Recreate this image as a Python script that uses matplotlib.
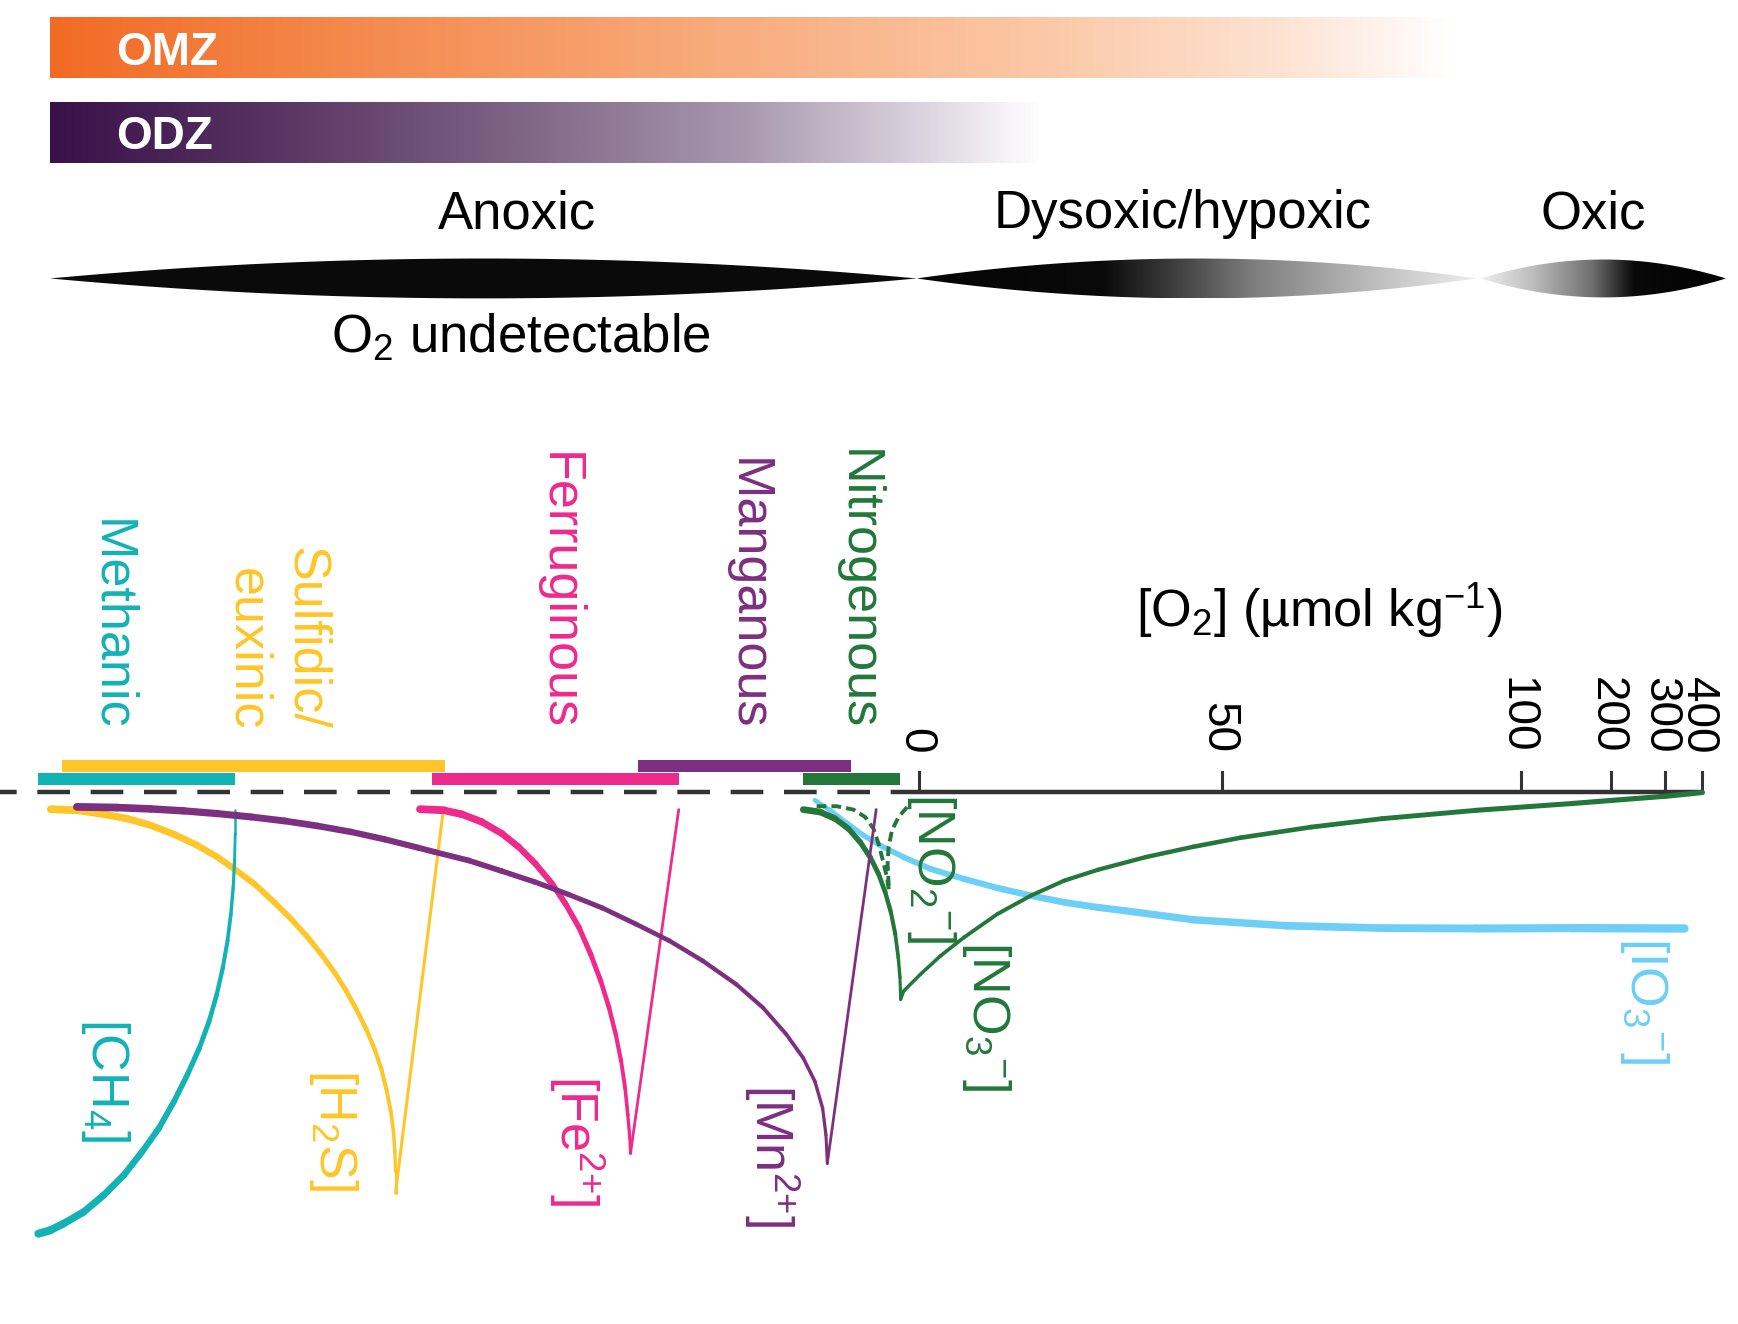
import numpy as np
import matplotlib
matplotlib.use("Agg")
import matplotlib.pyplot as plt
from matplotlib.collections import LineCollection
from matplotlib.colors import LinearSegmentedColormap
from matplotlib.patches import Polygon

plt.rcParams['font.family'] = ['Liberation Sans', 'DejaVu Sans']
plt.rcParams['mathtext.fontset'] = 'custom'
plt.rcParams['mathtext.rm'] = 'Liberation Sans'
plt.rcParams['mathtext.it'] = 'Liberation Sans:italic'
plt.rcParams['mathtext.bf'] = 'Liberation Sans:bold'
plt.rcParams['mathtext.default'] = 'rm'

# colores
C_CH4 = '#13b2b5'
C_H2S = '#ffc629'
C_FE = '#ee2a8c'
C_MN = '#7d2f80'
C_N = '#23773a'
C_IO3 = '#6dcff6'
C_AXIS = '#333333'

# ---------------- datos ----------------
# eje de O2 (escala comprimida por encima de 100)
o2_ticks = [0, 50, 100, 200, 300, 400]
o2_pos = [0, 50.2, 99.7, 114.6, 123.5, 129.7]

# regimenes redox (barras); fila 0 = abajo, 1 = arriba
regimes = ['Methanic', 'Sulfidic/\neuxinic', 'Ferruginous', 'Manganous', 'Nitrogenous']
reg_colors = [C_CH4, C_H2S, C_FE, C_MN, C_N]
reg_start = [-145.9, -141.9, -80.6, -46.6, -19.3]
reg_end = [-113.3, -78.5, -39.8, -11.3, -3.1]
reg_row = [0, 1, 0, 1, 0]
reg_label_x = [-133.8, -106.5, -59.7, -28.5, -10.2]

# perfiles de concentracion (posicion, concentracion relativa hacia abajo)
ch4_x = [-113.25, -113.25, -113.36, -113.58, -113.97, -114.52, -115.3, -116.3, -117.57, -119.18,
         -121.17, -123.39, -125.89, -128.66, -131.7, -135.03, -138.35, -141.68, -143.9, -145.84]
ch4_y = [2.83, 6.82, 11.25, 15.69, 20.12, 24.55, 28.99, 33.42, 37.86, 42.29,
         46.72, 51.16, 55.59, 59.47, 63.35, 66.67, 69.45, 71.38, 72.49, 73.05]

# H2S: curva y linea de retorno (ultimo punto)
h2s_x = [-143.79, -139.46, -135.58, -131.15, -127.27, -123.39, -119.51, -116.19, -113.42, -110.09,
         -106.77, -103.99, -101.22, -99.01, -96.79, -94.85, -93.19, -91.53, -90.14, -89.03,
         -88.2, -87.48, -87.04, -86.81, -86.7, -86.7, -78.78]
h2s_y = [2.77, 2.94, 3.5, 4.33, 5.43, 6.93, 8.76, 10.7, 12.64, 15.13,
         18.18, 20.95, 24.0, 26.77, 29.82, 32.87, 35.92, 39.24, 42.57, 45.89,
         49.22, 52.82, 56.14, 59.47, 62.79, 66.23, 2.83]

fe_x = [-82.65, -78.77, -75.72, -72.4, -69.07, -66.3, -63.53, -60.76, -58.54, -56.33,
        -54.39, -52.72, -51.34, -50.23, -49.34, -48.68, -48.24, -47.9, -47.79, -39.81]
fe_y = [2.77, 2.94, 3.61, 4.88, 6.82, 9.04, 11.81, 15.13, 18.46, 22.34,
        26.77, 31.21, 35.64, 40.07, 44.51, 48.94, 53.37, 57.25, 59.75, 2.83]

mn_x = [-139.46, -132.81, -127.27, -121.73, -116.19, -110.64, -105.1, -99.56, -94.02, -88.48,
        -82.93, -80.16, -74.62, -69.07, -63.53, -57.99, -52.45, -46.91, -41.36, -35.82,
        -30.28, -25.85, -21.97, -19.2, -17.26, -15.98, -15.43, -15.2, -7.11]
mn_y = [2.39, 2.5, 2.72, 3.05, 3.5, 4.05, 4.71, 5.55, 6.54, 7.76,
        9.15, 9.87, 11.25, 13.03, 14.86, 16.91, 19.12, 21.78, 24.55, 27.88,
        31.76, 35.64, 40.07, 43.95, 47.83, 52.26, 56.7, 61.41, 2.83]

# NO3: bajada (13 puntos) y subida hasta 400 µmol
no3_x = [-19.19, -16.42, -13.92, -11.71, -9.77, -8.11, -6.72, -5.61, -4.67, -3.95, -3.45, -3.17, -3.06,
         -2.56, 0.21, 3.53, 7.41, 12.95, 18.5, 24.04, 29.58, 37.53, 45.37, 53.18, 64.93, 76.65,
         92.31, 107.96, 123.61, 129.7]
no3_y = [2.84, 3.23, 4.33, 6.0, 8.21, 10.71, 13.48, 16.53, 19.85, 23.45, 27.33, 30.66, 34.26,
         32.88, 30.11, 27.06, 24.01, 20.13, 17.08, 14.59, 12.81, 10.7, 9.0, 7.5, 5.73, 4.34,
         2.95, 1.84, 0.62, 0.0]
no3_down = 13

no2_x = [-16.97, -13.65, -10.88, -8.94, -7.55, -6.72, -6.0, -5.33, -5.0, -5.22, -5.06, -4.5, -3.4, -1.73]
no2_y = [2.28, 2.28, 2.84, 4.06, 6.0, 8.49, 11.26, 14.03, 16.14, 11.82, 9.05, 6.27, 4.06, 2.12]

io3_x = [-17.25, -14.76, -11.98, -9.21, -6.44, -2.56, 1.87, 7.41, 12.95, 18.5, 24.04, 29.58,
         34.01, 45.37, 61.0, 76.65, 92.31, 107.96, 126.74]
io3_y = [1.29, 2.95, 5.05, 7.1, 8.77, 10.71, 12.65, 14.31, 15.81, 17.08, 18.19, 19.02,
         19.57, 21.07, 22.07, 22.46, 22.52, 22.46, 22.52]

species = [r'[CH$_4$]', r'[H$_2$S]', r'[Fe$^{2{+}}$]', r'[Mn$^{2{+}}$]',
           r'[NO$_2$$^{-}$]', r'[NO$_3$$^{-}$]', r'[IO$_3$$^{-}$]']
sp_colors = [C_CH4, C_H2S, C_FE, C_MN, C_N, C_N, C_IO3]
sp_x = [-134.7, -96.9, -56.6, -24.4, 2.0, 11.1, 120.1]
sp_y = [37.3, 45.8, 46.8, 48.2, 0.1, 24.6, 24.0]

zones = ['Anoxic', 'Dysoxic/hypoxic', 'Oxic']
zone_x = [-66.6, 43.6, 111.7]

# ---------------- figura ----------------
fig = plt.figure(figsize=(17.38, 13.24), dpi=100)
ax = fig.add_axes([0, 0, 1, 1])
ax.axis('off')


def tapered(x, y, widths, color, z):
    pts = np.column_stack([x, y])
    segs = np.stack([pts[:-1], pts[1:]], axis=1)
    lc = LineCollection(segs, linewidths=widths, colors=color,
                        capstyle='round', joinstyle='round', zorder=z)
    ax.add_collection(lc)


def gradient_box(x0, x1, y0, y1, stops, clip=None):
    cmap = LinearSegmentedColormap.from_list('g', stops)
    grad = np.linspace(0, 1, 512)[np.newaxis, :]
    im = ax.imshow(grad, cmap=cmap, extent=(x0, x1, y1, y0), aspect='auto',
                   interpolation='bilinear', zorder=1)
    if clip is not None:
        im.set_clip_path(clip)


def lens(x0, x1, yc, h):
    t = np.linspace(0, 1, 300)
    xs = x0 + t * (x1 - x0)
    hs = h * 4 * t * (1 - t)
    return np.concatenate([np.column_stack([xs, yc - hs]),
                           np.column_stack([xs[::-1], yc + hs[::-1]])])


# barras OMZ / ODZ
gradient_box(-143.9, 88.6, -128.3, -118.3,
             [(0, '#f26b25'), (0.2, '#f4874a'), (0.45, '#f8a878'), (0.7, '#fbc7a5'),
              (0.88, '#fde3d2'), (1.0, '#ffffff')])
gradient_box(-143.9, 20.3, -114.2, -104.2,
             [(0, '#3a1149'), (0.2, '#543060'), (0.45, '#7b6081'), (0.7, '#a898ae'),
              (0.87, '#d8d0dc'), (1.0, '#ffffff')])
ax.text(-133.0, -120.5, 'OMZ', color='white', fontsize=33, fontweight='bold',
        ha='left', va='baseline', zorder=5)
ax.text(-133.0, -106.6, 'ODZ', color='white', fontsize=33, fontweight='bold',
        ha='left', va='baseline', zorder=5)

# zonas de oxigeno
for name, xz in zip(zones, zone_x):
    ax.text(xz, -93.4, name, fontsize=38, ha='center', va='baseline', color='black')
ax.text(-65.9, -72.9, r'O$_2$ undetectable', fontsize=38, ha='center', va='baseline')

lens_y, lens_h = -85.1, 3.3
p1 = Polygon(lens(-143.9, -0.4, lens_y, lens_h), closed=True, facecolor='#0a0a0a',
             edgecolor='none', zorder=2)
ax.add_patch(p1)
p2 = Polygon(lens(-0.4, 92.3, lens_y, lens_h), closed=True, facecolor='none',
             edgecolor='none', transform=ax.transData)
ax.add_patch(p2)
gradient_box(-0.4, 92.3, lens_y - lens_h, lens_y + lens_h,
             [(0, '#050505'), (0.33, '#0a0a0a'), (0.45, '#3a3a3a'), (0.6, '#7d7d7d'),
              (0.8, '#b8b8b8'), (1.0, '#eeeeee')], clip=p2)
p3 = Polygon(lens(93.0, 133.6, lens_y, lens_h * 0.95), closed=True, facecolor='none',
             edgecolor='none', transform=ax.transData)
ax.add_patch(p3)
gradient_box(93.0, 133.6, lens_y - lens_h, lens_y + lens_h,
             [(0, '#eeeeee'), (0.2, '#c0c0c0'), (0.45, '#707070'), (0.62, '#0a0a0a'),
              (1.0, '#000000')], clip=p3)

# barras de regimenes redox
row_y = [-2.2, -4.4]
for s, e, r, c in zip(reg_start, reg_end, reg_row, reg_colors):
    ax.barh(row_y[r], e - s, left=s, height=2.0, color=c, zorder=3)
for name, xl, c in zip(regimes, reg_label_x, reg_colors):
    ax.text(xl, -10.3, name, color=c, fontsize=37.5, rotation=-90, ha='center',
            va='bottom', multialignment='right', linespacing=1.25)

# linea base discontinua y eje de O2
ax.plot([-152.2, 0], [0, 0], color=C_AXIS, lw=3.2, linestyle=(3.6, (7.35, 4.65)),
        solid_capstyle='butt', zorder=2)
ax.plot([0, o2_pos[-1]], [0, 0], color=C_AXIS, lw=3.2, solid_capstyle='butt', zorder=2)
for tv in o2_ticks:
    xp = np.interp(tv, o2_ticks, o2_pos)
    ax.plot([xp, xp], [0, -3.4], color=C_AXIS, lw=2.2, zorder=2)
    ax.text(xp - 0.7, -6.5, str(tv), fontsize=33, rotation=-90, ha='center', va='bottom')
ax.text(66.2, -27.3, r'[O$_2$] (µmol kg$^{-1}$)', fontsize=37.5, ha='center',
        va='baseline')

# perfiles
tapered(h2s_x, h2s_y, list(np.linspace(5.6, 2.2, len(h2s_x) - 2)) + [2.2], C_H2S, 3)
tapered(ch4_x, ch4_y, np.linspace(1.8, 5.8, len(ch4_x) - 1), C_CH4, 3)
tapered(fe_x, fe_y, list(np.linspace(5.6, 2.2, len(fe_x) - 2)) + [2.0], C_FE, 3)
tapered(io3_x, io3_y, np.linspace(3.4, 6.0, len(io3_x) - 1), C_IO3, 3)
tapered(no3_x, no3_y, list(np.linspace(4.8, 2.2, no3_down - 1))
        + list(np.linspace(2.4, 3.8, len(no3_x) - no3_down)), C_N, 4)
ax.plot(no2_x, no2_y, color=C_N, lw=2.8, linestyle=(0, (2.5, 1.3)), zorder=4)
tapered(mn_x, mn_y, list(np.linspace(5.6, 2.2, len(mn_x) - 2)) + [2.0], C_MN, 4)

for name, xs, ys, c in zip(species, sp_x, sp_y, sp_colors):
    ax.text(xs, ys, name, color=c, fontsize=37.5, rotation=-90, ha='center', va='top',
            zorder=5)

ax.set_xlim(-152.2, 135.6)
ax.set_ylim(88.0, -131.2)

fig.savefig('out.png', dpi=100)
